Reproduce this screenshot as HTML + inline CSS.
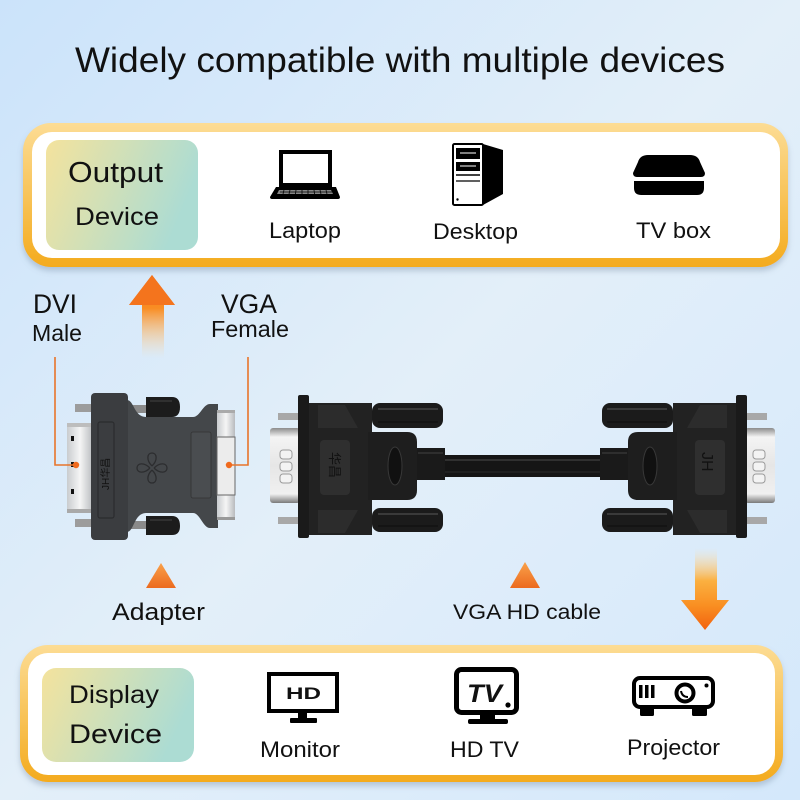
<!DOCTYPE html>
<html>
<head>
<meta charset="utf-8">
<style>
html,body{margin:0;padding:0;width:800px;height:800px;overflow:hidden;}
svg{display:block;}
text{font-family:"Liberation Sans","Noto Sans CJK SC",sans-serif;fill:#111;}
</style>
</head>
<body>
<svg width="800" height="800" viewBox="0 0 800 800" xmlns="http://www.w3.org/2000/svg">
<defs>
  <linearGradient id="bg" x1="0" y1="0" x2="1" y2="1">
    <stop offset="0" stop-color="#cbe3fa"/>
    <stop offset="0.5" stop-color="#e3eff9"/>
    <stop offset="1" stop-color="#d4e8fb"/>
  </linearGradient>
  <linearGradient id="frame" x1="0" y1="0" x2="0" y2="1">
    <stop offset="0" stop-color="#fcdc94"/>
    <stop offset="1" stop-color="#f4ab1e"/>
  </linearGradient>
  <linearGradient id="lbl" x1="0" y1="0" x2="1" y2="0.3">
    <stop offset="0" stop-color="#f4e39d"/>
    <stop offset="1" stop-color="#acdcd3"/>
  </linearGradient>
  <linearGradient id="upArrow" x1="0" y1="0" x2="0" y2="1">
    <stop offset="0" stop-color="#f4711c"/>
    <stop offset="0.4" stop-color="#f98d23"/>
    <stop offset="1" stop-color="#ffd9a0" stop-opacity="0"/>
  </linearGradient>
  <linearGradient id="downArrow" x1="0" y1="0" x2="0" y2="1">
    <stop offset="0" stop-color="#ffe0a8" stop-opacity="0"/>
    <stop offset="0.4" stop-color="#fbb040"/>
    <stop offset="0.7" stop-color="#f98f22"/>
    <stop offset="1" stop-color="#f2620f"/>
  </linearGradient>
  <linearGradient id="tri" x1="0" y1="0" x2="0" y2="1">
    <stop offset="0" stop-color="#f9a14a"/>
    <stop offset="1" stop-color="#ec6a1f"/>
  </linearGradient>
  <linearGradient id="silverV" x1="0" y1="0" x2="0" y2="1">
    <stop offset="0" stop-color="#8c8c8c"/>
    <stop offset="0.12" stop-color="#f4f4f4"/>
    <stop offset="0.5" stop-color="#e6e6e6"/>
    <stop offset="0.88" stop-color="#f0f0f0"/>
    <stop offset="1" stop-color="#7a7a7a"/>
  </linearGradient>
  <linearGradient id="silverH" x1="0" y1="0" x2="1" y2="0">
    <stop offset="0" stop-color="#c9cccf"/>
    <stop offset="0.5" stop-color="#f5f5f5"/>
    <stop offset="1" stop-color="#b8bbbe"/>
  </linearGradient>
  <filter id="sh" x="-5%" y="-10%" width="110%" height="130%">
    <feDropShadow dx="0" dy="4" stdDeviation="3" flood-color="#6a7f99" flood-opacity="0.35"/>
  </filter>
</defs>

<!-- background -->
<rect x="0" y="0" width="800" height="800" fill="url(#bg)"/>

<!-- title -->
<text x="75" y="72" font-size="35" textLength="650" lengthAdjust="spacingAndGlyphs">Widely compatible with multiple devices</text>

<!-- TOP BOX -->
<rect x="23" y="123" width="765" height="144" rx="28" fill="url(#frame)" filter="url(#sh)"/>
<rect x="32" y="132" width="748" height="126" rx="20" fill="#ffffff"/>
<rect x="46" y="140" width="152" height="110" rx="13" fill="url(#lbl)"/>
<text x="68" y="182" font-size="29" textLength="95" lengthAdjust="spacingAndGlyphs">Output</text>
<text x="75" y="225" font-size="25" textLength="84" lengthAdjust="spacingAndGlyphs">Device</text>

<!-- laptop icon -->
<rect x="281" y="152" width="49" height="33" fill="#fff" stroke="#000" stroke-width="4"/>
<path d="M276,187 L336,187 L340,197 Q340,199 338,199 L272,199 Q270,199 270,197 Z" fill="#000"/>
<path d="M279,190 L331,190 L333,194 L277,194 Z" fill="#888"/>
<g stroke="#000" stroke-width="0.8">
<line x1="280" y1="192" x2="332" y2="192"/>
<line x1="284" y1="190" x2="283" y2="194"/><line x1="290" y1="190" x2="289" y2="194"/><line x1="296" y1="190" x2="295.5" y2="194"/><line x1="302" y1="190" x2="302" y2="194"/><line x1="308" y1="190" x2="308" y2="194"/><line x1="314" y1="190" x2="314.5" y2="194"/><line x1="320" y1="190" x2="321" y2="194"/><line x1="326" y1="190" x2="327" y2="194"/>
</g>
<text x="269" y="238" font-size="22" textLength="72" lengthAdjust="spacingAndGlyphs">Laptop</text>

<!-- desktop icon -->
<polygon points="483,144 503,150 503,194 483,205" fill="#000"/>
<rect x="453" y="144" width="30" height="61" rx="1.5" fill="#fff" stroke="#000" stroke-width="2"/>
<rect x="456" y="148" width="24" height="11" fill="#000"/>
<line x1="460" y1="153" x2="476" y2="153" stroke="#fff" stroke-width="1"/>
<rect x="456" y="162" width="24" height="9" fill="#000"/>
<line x1="460" y1="166" x2="476" y2="166" stroke="#fff" stroke-width="1"/>
<line x1="456" y1="175" x2="480" y2="175" stroke="#000" stroke-width="1.5"/>
<line x1="456" y1="181" x2="480" y2="181" stroke="#000" stroke-width="1.2"/>
<circle cx="457.5" cy="199.5" r="1.2" fill="#000"/>
<text x="433" y="239" font-size="22" textLength="85" lengthAdjust="spacingAndGlyphs">Desktop</text>

<!-- TV box icon -->
<path d="M648,155 L690,155 Q698,155 700,162 L705,173 Q705,177 701,177 L637,177 Q633,177 633,173 L638,162 Q640,155 648,155 Z" fill="#000"/>
<path d="M634,181 L704,181 L704,188 Q704,195 697,195 L641,195 Q634,195 634,188 Z" fill="#000"/>
<text x="636" y="238" font-size="22" textLength="75" lengthAdjust="spacingAndGlyphs">TV box</text>

<!-- up arrow -->
<polygon points="152,275 175,305 164,305 164,358 142,358 142,305 129,305" fill="url(#upArrow)"/>
<polygon points="152,275 175,305 129,305" fill="#f4741d"/>

<!-- labels DVI / VGA -->
<text x="33" y="313" font-size="27" textLength="44" lengthAdjust="spacingAndGlyphs">DVI</text>
<text x="32" y="341" font-size="23" textLength="50" lengthAdjust="spacingAndGlyphs">Male</text>
<text x="221" y="313" font-size="27" textLength="56" lengthAdjust="spacingAndGlyphs">VGA</text>
<text x="211" y="337" font-size="23" textLength="78" lengthAdjust="spacingAndGlyphs">Female</text>

<!-- ADAPTER -->
<g>
  <!-- dvi plug -->
  <rect x="67" y="423" width="26" height="90" fill="url(#silverH)"/>
  <rect x="67" y="423" width="26" height="4" fill="#bdbdbd"/>
  <rect x="67" y="509" width="26" height="4" fill="#a9a9a9"/>
  <rect x="71" y="436" width="3" height="5" fill="#111"/>
  <rect x="71" y="462" width="3" height="5" fill="#111"/>
  <rect x="71" y="489" width="3" height="5" fill="#111"/>
  <!-- studs -->
  <rect x="75" y="404" width="18" height="8" fill="#9c9c9c"/>
  <rect x="75" y="519" width="18" height="8" fill="#9c9c9c"/>
  <!-- rods -->
  <rect x="124" y="405" width="26" height="8" fill="#8a8a8a"/>
  <rect x="124" y="521" width="26" height="8" fill="#8a8a8a"/>
  <!-- screw heads -->
  <path d="M146,397 L172,397 Q180,397 180,407 Q180,417 172,417 L146,417 Z" fill="#1c1c1c"/>
  <path d="M146,516 L172,516 Q180,516 180,526 Q180,535 172,535 L146,535 Z" fill="#1c1c1c"/>
  <line x1="150" y1="401" x2="172" y2="401" stroke="#444" stroke-width="1"/>
  <line x1="150" y1="520" x2="172" y2="520" stroke="#444" stroke-width="1"/>
  <!-- body -->
  <path d="M93,400 L127,400 C134,400 134,417 146,417 L193,417 C200,417 203,404 210,404 L218,404 L218,528 L210,528 C203,528 200,513 193,513 L146,513 C134,513 134,532 127,532 L93,532 Z" fill="#44474a"/>
  <rect x="91" y="393" width="37" height="147" rx="4" fill="#3b3d40"/>
  <rect x="98" y="422" width="16" height="96" rx="2" fill="none" stroke="#2b2c2e" stroke-width="1.2"/>
  <rect x="191" y="432" width="20" height="66" rx="2" fill="#4a4d50" stroke="#333" stroke-width="0.8"/>
  <!-- fan logo -->
  <g fill="none" stroke="#2c2d2f" stroke-width="1.3">
    <path d="M152,466 C146,460 147,453 152,453 C157,453 158,460 152,466"/>
    <path d="M152,470 C146,476 147,483 152,483 C157,483 158,476 152,470"/>
    <path d="M150,468 C144,462 137,463 137,468 C137,473 144,474 150,468"/>
    <path d="M154,468 C160,462 167,463 167,468 C167,473 160,474 154,468"/>
  </g>
  <text x="0" y="0" font-size="10" fill="#2a2a2a" transform="translate(109,490) rotate(-90)">JH华昌</text>
  <!-- vga female -->
  <rect x="217" y="410" width="18" height="110" fill="url(#silverH)"/>
  <rect x="217" y="437" width="18" height="58" fill="#ececec" stroke="#666" stroke-width="1"/>
  <rect x="217" y="410" width="18" height="3" fill="#aaa"/>
  <rect x="217" y="517" width="18" height="3" fill="#999"/>
</g>

<!-- orange pointer lines -->
<polyline points="55,357 55,465 76,465" fill="none" stroke="#e8742a" stroke-width="1.6"/>
<circle cx="76" cy="465" r="3.2" fill="#f06a1d"/>
<polyline points="248,357 248,465 229,465" fill="none" stroke="#e8742a" stroke-width="1.6"/>
<circle cx="229" cy="465" r="3.2" fill="#f06a1d"/>

<!-- CABLE -->
<rect x="443" y="455" width="160" height="22" fill="#151515"/>
<line x1="443" y1="460" x2="603" y2="460" stroke="#3a3a3a" stroke-width="1.5"/>
<line x1="443" y1="472" x2="603" y2="472" stroke="#2a2a2a" stroke-width="1"/>

<!-- left connector -->
<g id="connL">
  <rect x="270" y="428" width="30" height="75" rx="3" fill="url(#silverV)"/>
  <g fill="#f3f3f3" stroke="#9a9a9a" stroke-width="1">
    <rect x="280" y="450" width="12" height="9" rx="3"/>
    <rect x="280" y="462" width="12" height="9" rx="3"/>
    <rect x="280" y="474" width="12" height="9" rx="3"/>
  </g>
  <rect x="278" y="413" width="21" height="7" fill="#a8a8a8"/>
  <rect x="278" y="517" width="21" height="7" fill="#a8a8a8"/>
  <rect x="372" y="403" width="71" height="25" rx="8" fill="#1b1b1b"/>
  <line x1="378" y1="409" x2="438" y2="409" stroke="#444" stroke-width="1.5"/>
  <line x1="378" y1="422" x2="438" y2="422" stroke="#0c0c0c" stroke-width="1"/>
  <rect x="372" y="508" width="71" height="24" rx="8" fill="#1b1b1b"/>
  <line x1="378" y1="514" x2="438" y2="514" stroke="#444" stroke-width="1.5"/>
  <line x1="378" y1="526" x2="438" y2="526" stroke="#0c0c0c" stroke-width="1"/>
  <path d="M306,403 L372,403 L372,535 L306,535 Z" fill="#222"/>
  <path d="M318,405 L345,405 L358,428 L318,428 Z" fill="#2c2c2c"/>
  <path d="M318,533 L345,533 L358,510 L318,510 Z" fill="#2c2c2c"/>
  <rect x="298" y="395" width="11" height="143" rx="2" fill="#1a1a1a"/>
  <rect x="320" y="440" width="30" height="55" rx="4" fill="#2f2f2f"/>
  <rect x="416" y="448" width="29" height="32" fill="#1a1a1a"/>
  <line x1="418" y1="453" x2="443" y2="453" stroke="#3a3a3a" stroke-width="1.2"/>
  <path d="M368,432 L407,432 Q417,432 417,442 L417,490 Q417,500 407,500 L368,500 Z" fill="#1e1e1e"/>
  <ellipse cx="395" cy="466" rx="7" ry="19" fill="#111" stroke="#383838" stroke-width="1"/>
</g>
<text x="0" y="0" font-size="13" fill="#111" transform="translate(330,452) rotate(90)">华昌</text>

<!-- right connector (mirrored) -->
<g transform="translate(1045,0) scale(-1,1)">
  <rect x="270" y="428" width="30" height="75" rx="3" fill="url(#silverV)"/>
  <g fill="#f3f3f3" stroke="#9a9a9a" stroke-width="1">
    <rect x="280" y="450" width="12" height="9" rx="3"/>
    <rect x="280" y="462" width="12" height="9" rx="3"/>
    <rect x="280" y="474" width="12" height="9" rx="3"/>
  </g>
  <rect x="278" y="413" width="21" height="7" fill="#a8a8a8"/>
  <rect x="278" y="517" width="21" height="7" fill="#a8a8a8"/>
  <rect x="372" y="403" width="71" height="25" rx="8" fill="#1b1b1b"/>
  <line x1="378" y1="409" x2="438" y2="409" stroke="#444" stroke-width="1.5"/>
  <line x1="378" y1="422" x2="438" y2="422" stroke="#0c0c0c" stroke-width="1"/>
  <rect x="372" y="508" width="71" height="24" rx="8" fill="#1b1b1b"/>
  <line x1="378" y1="514" x2="438" y2="514" stroke="#444" stroke-width="1.5"/>
  <line x1="378" y1="526" x2="438" y2="526" stroke="#0c0c0c" stroke-width="1"/>
  <path d="M306,403 L372,403 L372,535 L306,535 Z" fill="#222"/>
  <path d="M318,405 L345,405 L358,428 L318,428 Z" fill="#2c2c2c"/>
  <path d="M318,533 L345,533 L358,510 L318,510 Z" fill="#2c2c2c"/>
  <rect x="298" y="395" width="11" height="143" rx="2" fill="#1a1a1a"/>
  <rect x="320" y="440" width="30" height="55" rx="4" fill="#2f2f2f"/>
  <rect x="416" y="448" width="29" height="32" fill="#1a1a1a"/>
  <line x1="418" y1="453" x2="443" y2="453" stroke="#3a3a3a" stroke-width="1.2"/>
  <path d="M368,432 L407,432 Q417,432 417,442 L417,490 Q417,500 407,500 L368,500 Z" fill="#1e1e1e"/>
  <ellipse cx="395" cy="466" rx="7" ry="19" fill="#111" stroke="#383838" stroke-width="1"/>
</g>
<text x="0" y="0" font-family="Liberation Serif, serif" font-size="16" fill="#111" transform="translate(702,452) rotate(90)">JH</text>

<!-- down arrow -->
<polygon points="695,548 717,548 717,600 729,600 705,630 681,600 695,600" fill="url(#downArrow)"/>

<!-- small triangles -->
<polygon points="161,563 176,588 146,588" fill="url(#tri)"/>
<polygon points="525,562 540,588 510,588" fill="url(#tri)"/>

<text x="112" y="620" font-size="24" textLength="93" lengthAdjust="spacingAndGlyphs">Adapter</text>
<text x="453" y="619" font-size="21" textLength="148" lengthAdjust="spacingAndGlyphs">VGA HD cable</text>

<!-- BOTTOM BOX -->
<rect x="20" y="645" width="763" height="137" rx="28" fill="url(#frame)" filter="url(#sh)"/>
<rect x="28" y="653" width="747" height="122" rx="20" fill="#ffffff"/>
<rect x="42" y="668" width="152" height="94" rx="14" fill="url(#lbl)"/>
<text x="69" y="703" font-size="25" textLength="90" lengthAdjust="spacingAndGlyphs">Display</text>
<text x="69" y="743" font-size="27" textLength="93" lengthAdjust="spacingAndGlyphs">Device</text>

<!-- monitor icon -->
<rect x="269" y="674" width="68" height="37" fill="#fff" stroke="#000" stroke-width="4"/>
<text x="286" y="699" font-size="17" font-weight="bold" textLength="35" lengthAdjust="spacingAndGlyphs" fill="#000">HD</text>
<rect x="298" y="711" width="9" height="8" fill="#000"/>
<rect x="290" y="718" width="27" height="5" rx="1" fill="#000"/>
<text x="260" y="757" font-size="22" textLength="80" lengthAdjust="spacingAndGlyphs">Monitor</text>

<!-- HD TV icon -->
<rect x="456.5" y="669.5" width="60" height="43" rx="5" fill="#fff" stroke="#000" stroke-width="5"/>
<text x="467" y="702" font-size="25" font-weight="bold" font-style="italic" textLength="35" lengthAdjust="spacingAndGlyphs" fill="#000">TV</text>
<circle cx="508" cy="705" r="2.6" fill="#000"/>
<rect x="480" y="714" width="15" height="6" fill="#000"/>
<rect x="468" y="719" width="40" height="5" rx="2" fill="#000"/>
<text x="450" y="757" font-size="22" textLength="69" lengthAdjust="spacingAndGlyphs">HD TV</text>

<!-- projector icon -->
<rect x="640" y="705" width="14" height="11" rx="1.5" fill="#000"/>
<rect x="692" y="705" width="15" height="11" rx="1.5" fill="#000"/>
<rect x="634" y="678" width="79" height="29" rx="6" fill="#fff" stroke="#000" stroke-width="4"/>
<rect x="639" y="685" width="3.5" height="13" fill="#000"/>
<rect x="645" y="685" width="3.5" height="13" fill="#000"/>
<rect x="651" y="685" width="3.5" height="13" fill="#000"/>
<circle cx="685" cy="693" r="8.5" fill="#fff" stroke="#000" stroke-width="4"/>
<path d="M681,691 Q682,697 688,697" fill="none" stroke="#000" stroke-width="2"/>
<circle cx="706.5" cy="685.5" r="2" fill="#000"/>
<text x="627" y="755" font-size="22" textLength="93" lengthAdjust="spacingAndGlyphs">Projector</text>
</svg>
</body>
</html>
